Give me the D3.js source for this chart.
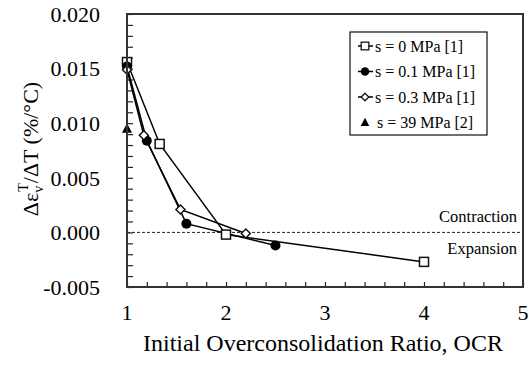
<!DOCTYPE html>
<html>
<head>
<meta charset="utf-8">
<script src="https://cdn.jsdelivr.net/npm/d3@7"></script>
<style>
  body { margin: 0; background: #fff; }
  svg text { font-family: "Liberation Serif", "Times New Roman", serif; }
</style>
</head>
<body>
<svg id="chart" width="529" height="370"></svg>
<script>
// series
const ocr0 = [1.0, 1.33, 2.0, 4.0];
const val0 = [0.0156, 0.0081, -0.0002, -0.0027];
const ocr01 = [1.0, 1.2, 1.6, 2.5];
const val01 = [0.0152, 0.0084, 0.0008, -0.0012];
const ocr03 = [1.0, 1.17, 1.54, 2.2];
const val03 = [0.0149, 0.0089, 0.0021, -0.0001];
const ocr39 = [1.0];
const val39 = [0.0095];

const seriesNames = ["s = 0 MPa [1]", "s = 0.1 MPa [1]", "s = 0.3 MPa [1]", "s = 39 MPa [2]"];
const xTicks = [1, 2, 3, 4, 5];
const yTicks = [-0.005, 0, 0.005, 0.010, 0.015, 0.020];

const margin = { top: 14, right: 6, bottom: 83, left: 127 };
const width = 529, height = 370;
const plotW = width - margin.left - margin.right;
const plotH = height - margin.top - margin.bottom;

const svg = d3.select("#chart");
const g = svg.append("g")
	.attr("transform", "translate(" + margin.left + "," + margin.top + ")");

const x = d3.scaleLinear().domain([1, 5]).range([0, plotW]);
const y = d3.scaleLinear().domain([-0.005, 0.020]).range([plotH, 0]);

// minor ticks (inward)
const xMinor = d3.range(1, 5.0001, 0.2);
const yMinor = d3.range(-0.005, 0.02001, 0.001);

g.append("g")
	.attr("transform", "translate(0," + plotH + ")")
	.call(d3.axisBottom(x).tickValues(xMinor).tickSize(-5).tickFormat(""))
	.call(a => a.select(".domain").remove())
	.selectAll("line").attr("stroke", "#222").attr("stroke-width", 1.2);

g.append("g")
	.call(d3.axisLeft(y).tickValues(yMinor).tickSize(-6).tickFormat(""))
	.call(a => a.select(".domain").remove())
	.selectAll("line").attr("stroke", "#222").attr("stroke-width", 1.2);

// tick labels
g.selectAll(".xlab")
	.data(xTicks)
	.enter()
	.append("text")
	.attr("class", "xlab")
	.attr("x", d => x(d))
	.attr("y", plotH + 33)
	.attr("text-anchor", "middle")
	.style("font-size", "22px")
	.text(d => d);

g.selectAll(".ylab")
	.data(yTicks)
	.enter()
	.append("text")
	.attr("class", "ylab")
	.attr("x", -27)
	.attr("y", d => y(d))
	.attr("dy", "0.35em")
	.attr("text-anchor", "end")
	.style("font-size", "22px")
	.text(d => d3.format(".3f")(d).replace("−", "-"));

// zero line
g.append("line")
	.attr("x1", 0).attr("x2", plotW)
	.attr("y1", y(0)).attr("y2", y(0))
	.attr("stroke", "#222")
	.attr("stroke-width", 1)
	.attr("stroke-dasharray", "3,2");

g.append("text")
	.attr("x", plotW - 6).attr("y", y(0) - 10)
	.attr("text-anchor", "end")
	.style("font-size", "16.5px")
	.text("Contraction");

g.append("text")
	.attr("x", plotW - 6).attr("y", y(0) + 22)
	.attr("text-anchor", "end")
	.style("font-size", "16.5px")
	.text("Expansion");

// axis titles
svg.append("text")
	.attr("x", margin.left + plotW / 2 - 2)
	.attr("y", 351)
	.attr("text-anchor", "middle")
	.style("font-size", "24px")
	.text("Initial Overconsolidation Ratio, OCR");

const yt = svg.append("text")
	.attr("transform", "translate(38,149) rotate(-90)")
	.attr("text-anchor", "middle")
	.style("font-size", "22px");
yt.append("tspan").text("Δε");
yt.append("tspan").attr("dy", 5).style("font-size", "14px").text("v");
yt.append("tspan").attr("dy", -15).attr("dx", -6).style("font-size", "14px").text("T");
yt.append("tspan").attr("dy", 10).text("/ΔT (%/°C)");

// lines and markers
const line = d3.line().x(d => x(d[0])).y(d => y(d[1]));
const series = [
	{ xs: ocr0, ys: val0, shape: "square" },
	{ xs: ocr01, ys: val01, shape: "circle" },
	{ xs: ocr03, ys: val03, shape: "diamond" },
	{ xs: ocr39, ys: val39, shape: "triangle" }
];

function drawMarker(sel, shape) {
	if (shape == "square") {
		sel.append("rect").attr("x", -4.5).attr("y", -4.5).attr("width", 9).attr("height", 9)
			.attr("fill", "#fff").attr("stroke", "#111").attr("stroke-width", 1.5);
	}
	else if (shape == "circle") {
		sel.append("circle").attr("r", 5).attr("fill", "#000");
	}
	else if (shape == "diamond") {
		sel.append("path").attr("d", "M0,-4.5L4.5,0L0,4.5L-4.5,0Z")
			.attr("fill", "#fff").attr("stroke", "#111").attr("stroke-width", 1.5);
	}
	else if (shape == "triangle") {
		sel.append("path").attr("d", "M0,-5.5L5,4L-5,4Z").attr("fill", "#000");
	}
}

series.forEach(s => {
	const pts = s.xs.map((v, i) => [v, s.ys[i]]);
	if (pts.length > 1) {
		g.append("path")
			.datum(pts)
			.attr("d", line)
			.attr("fill", "none")
			.attr("stroke", "#000")
			.attr("stroke-width", 1.5);
	}
});
series.forEach(s => {
	s.xs.forEach((v, i) => {
		const m = g.append("g").attr("transform", "translate(" + x(v) + "," + y(s.ys[i]) + ")");
		drawMarker(m, s.shape);
	});
});

// plot frame
g.append("rect")
	.attr("width", plotW).attr("height", plotH)
	.attr("fill", "none")
	.attr("stroke", "#333")
	.attr("stroke-width", 2);

// legend
const lg = svg.append("g").attr("transform", "translate(350,32)");
lg.append("rect").attr("width", 137).attr("height", 103)
	.attr("fill", "#fff").attr("stroke", "#111").attr("stroke-width", 1.2);
seriesNames.forEach((name, i) => {
	const row = lg.append("g").attr("transform", "translate(0," + (14 + i * 25.5) + ")");
	if (series[i].shape != "triangle") {
		row.append("line").attr("x1", 8).attr("x2", 23).attr("stroke", "#000").attr("stroke-width", 1.5);
	}
	const m = row.append("g").attr("transform", "translate(15,0) scale(0.85)");
	drawMarker(m, series[i].shape);
	row.append("text")
		.attr("x", series[i].shape == "triangle" ? 27 : 25)
		.attr("dy", "0.35em")
		.style("font-size", "16px")
		.text(name);
});
</script>
</body>
</html>
